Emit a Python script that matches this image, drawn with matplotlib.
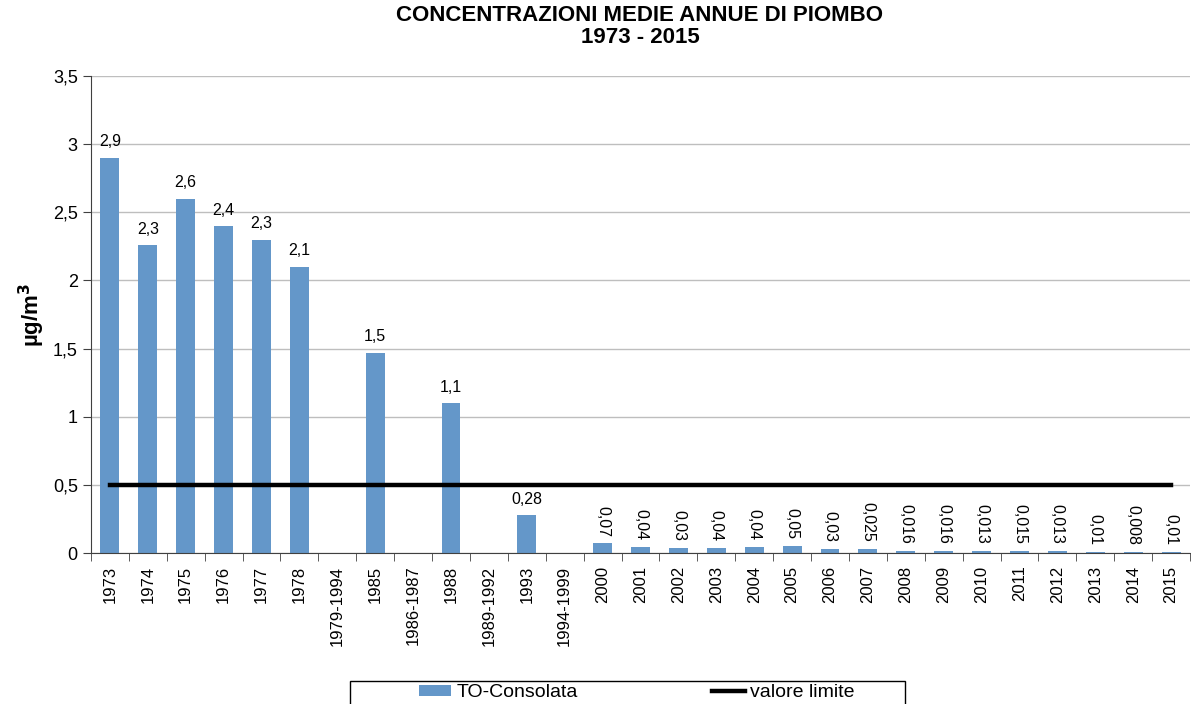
import matplotlib.pyplot as plt
import matplotlib.ticker as mticker
from matplotlib.patches import Rectangle
import numpy as np

plt.rcParams['font.family'] = ['Liberation Sans', 'DejaVu Sans']

categories = ['1973', '1974', '1975', '1976', '1977', '1978', '1979-1994', '1985',
              '1986-1987', '1988', '1989-1992', '1993', '1994-1999',
              '2000', '2001', '2002', '2003', '2004', '2005', '2006', '2007',
              '2008', '2009', '2010', '2011', '2012', '2013', '2014', '2015']
values = [2.9, 2.26, 2.6, 2.4, 2.3, 2.1, np.nan, 1.47, np.nan, 1.1, np.nan, 0.28, np.nan,
          0.07, 0.045, 0.035, 0.035, 0.045, 0.05, 0.03, 0.03,
          0.016, 0.016, 0.013, 0.015, 0.013, 0.01, 0.008, 0.01]
labels = ['2,9', '2,3', '2,6', '2,4', '2,3', '2,1', '', '1,5', '', '1,1', '', '0,28', '',
          '0,07', '0,04', '0,03', '0,04', '0,04', '0,05', '0,03', '0,025',
          '0,016', '0,016', '0,013', '0,015', '0,013', '0,01', '0,008', '0,01']
limit = 0.5

W, H = 1191, 704
fig = plt.figure(figsize=(W / 100, H / 100), dpi=100)
ax = fig.add_axes([91 / W, 1 - 553 / H, 1099 / W, (553 - 76) / H])

x = np.arange(len(categories))
bar_color = '#6497C9'
bars = ax.bar(x, np.nan_to_num(values), width=0.5, color=bar_color, zorder=2,
              label='TO-Consolata')
line, = ax.plot(x, [limit] * len(x), color='black', lw=3.2, zorder=3,
                label='valore limite')

for i, (v, lab) in enumerate(zip(values, labels)):
    if not lab:
        continue
    if i >= 13:
        ax.annotate(lab, (i, v), xytext=(0, 5), textcoords='offset points',
                    ha='center', va='bottom', rotation=-90, fontsize=11.5)
    else:
        ax.annotate(lab, (i, v), xytext=(0, 6), textcoords='offset points',
                    ha='center', va='bottom', fontsize=11.5)

ax.set_xlim(-0.5, len(x) - 0.5)
ax.set_ylim(0, 3.5)
ax.set_yticks(np.arange(0, 3.51, 0.5))
ax.yaxis.set_major_formatter(mticker.FuncFormatter(
    lambda v, p: ('%g' % v).replace('.', ',')))
ax.set_xticks(x)
ax.set_xticklabels(categories, rotation=90, fontsize=12)
ax.set_xticks(np.arange(-0.5, len(x), 1), minor=True)
ax.tick_params(axis='x', which='major', length=0, pad=9)
ax.tick_params(axis='x', which='minor', length=6, color='#404040')
ax.tick_params(axis='y', labelsize=13, length=6, color='#404040')
ax.grid(axis='y', color='#BEBEBE', lw=1, zorder=0)
for s in ['top', 'right']:
    ax.spines[s].set_visible(False)
for s in ['left', 'bottom']:
    ax.spines[s].set_color('#404040')

ax.set_ylabel('µg/m$^\\mathbf{3}$', fontsize=16, fontweight='bold', labelpad=4)
fig.text(640 / W, 1 - 5 / H, 'CONCENTRAZIONI MEDIE ANNUE DI PIOMBO\n1973 - 2015',
         ha='center', va='top', fontsize=16, fontweight='bold', linespacing=1.05)

# legend box (cut off by the bottom edge, as in the original)
fig.patches.append(Rectangle((350 / W, -0.05), 555 / W, 0.05 + 1 - 681 / H,
                             transform=fig.transFigure, fill=False,
                             edgecolor='black', lw=1))
fig.legend([bars, line], ['TO-Consolata', 'valore limite'],
           loc='upper left', bbox_to_anchor=(419 / W, 1 - 684 / H),
           ncol=2, frameon=False, fontsize=14, borderpad=0, borderaxespad=0,
           handlelength=1.65, handleheight=0.5, handletextpad=0.3,
           columnspacing=6.9)

fig.savefig('out.png', dpi=100)
